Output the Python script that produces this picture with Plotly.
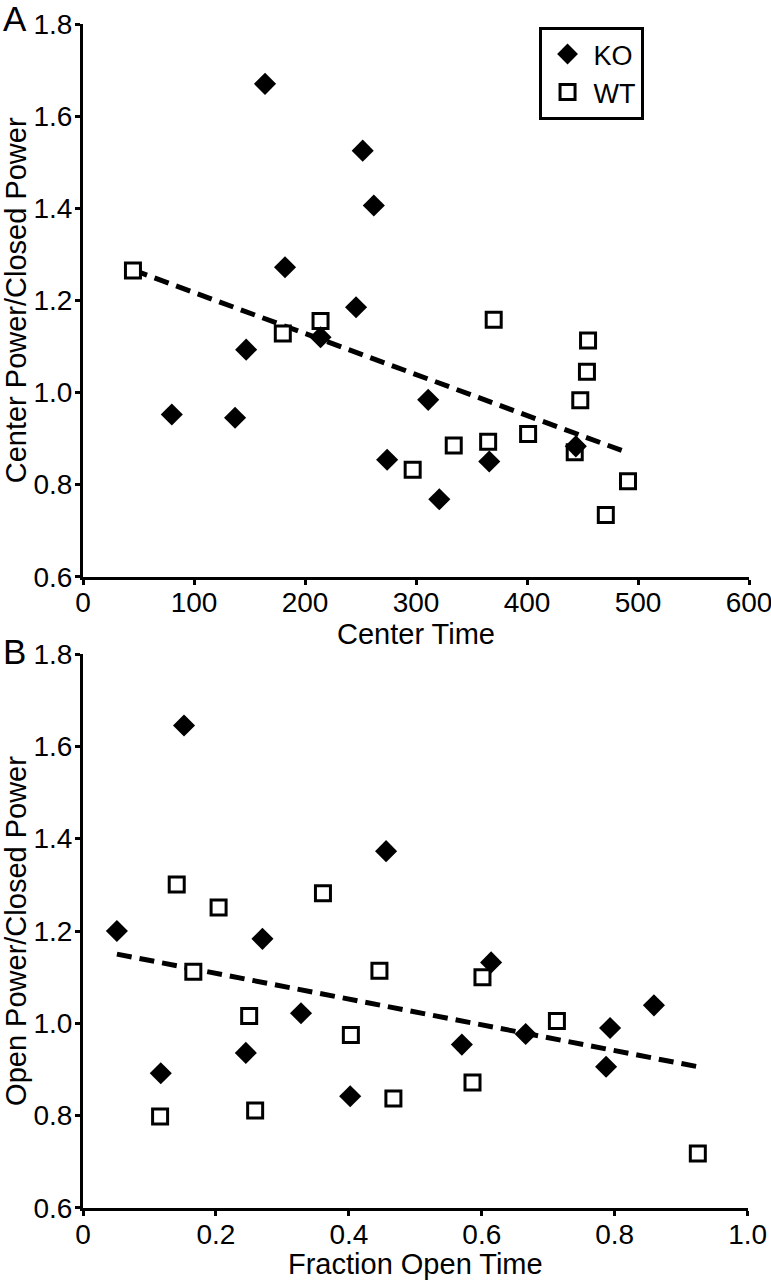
import plotly.graph_objects as go

# ---------------- Data ----------------
# Panel A: Center Time vs Center Power/Closed Power
a_ko_x = [80, 137, 147, 164, 182, 214, 246, 252, 262, 274, 311, 321, 366, 444]
a_ko_y = [0.952, 0.945, 1.093, 1.670, 1.272, 1.120, 1.185, 1.525, 1.406, 0.854, 0.984, 0.768, 0.850, 0.883]
a_wt_x = [45, 180, 214, 297, 334, 365, 370, 401, 443, 448, 454, 455, 471, 491]
a_wt_y = [1.265, 1.128, 1.155, 0.832, 0.885, 0.893, 1.158, 0.910, 0.870, 0.983, 1.045, 1.113, 0.734, 0.807]
a_trend_x = [45, 491]
a_trend_y = [1.266, 0.869]

# Panel B: Fraction Open Time vs Open Power/Closed Power
b_ko_x = [0.051, 0.117, 0.152, 0.245, 0.270, 0.328, 0.402, 0.456, 0.570, 0.614, 0.666, 0.787, 0.793, 0.859]
b_ko_y = [1.200, 0.892, 1.645, 0.936, 1.183, 1.022, 0.842, 1.373, 0.954, 1.132, 0.977, 0.906, 0.990, 1.039]
b_wt_x = [0.116, 0.141, 0.166, 0.204, 0.250, 0.259, 0.361, 0.403, 0.446, 0.467, 0.586, 0.601, 0.713, 0.925]
b_wt_y = [0.798, 1.301, 1.112, 1.251, 1.016, 0.811, 1.282, 0.975, 1.114, 0.837, 0.872, 1.100, 1.005, 0.718]
b_trend_x = [0.051, 0.925]
b_trend_y = [1.150, 0.906]

y_ticks = [0.6, 0.8, 1.0, 1.2, 1.4, 1.6, 1.8]
a_x_ticks = [0, 100, 200, 300, 400, 500, 600]
b_x_ticks = [0, 0.2, 0.4, 0.6, 0.8, 1.0]
b_x_ticktext = ["0", "0.2", "0.4", "0.6", "0.8", "1.0"]

FONT = "Liberation Sans, Arial, Helvetica, sans-serif"

ko_marker = dict(symbol="diamond", size=17, color="black", line=dict(width=0))
wt_marker = dict(symbol="square", size=15, color="white", line=dict(width=3, color="black"))
trend_line = dict(color="black", width=5, dash="15px,8px")

fig = go.Figure()

# Panel A
fig.add_trace(go.Scatter(x=a_trend_x, y=a_trend_y, mode="lines", line=trend_line,
                         showlegend=False, xaxis="x", yaxis="y", hoverinfo="skip"))
fig.add_trace(go.Scatter(x=a_wt_x, y=a_wt_y, mode="markers", marker=wt_marker, name="WT",
                         legendrank=2, xaxis="x", yaxis="y"))
fig.add_trace(go.Scatter(x=a_ko_x, y=a_ko_y, mode="markers", marker=ko_marker, name="KO",
                         legendrank=1, xaxis="x", yaxis="y"))

# Panel B
fig.add_trace(go.Scatter(x=b_trend_x, y=b_trend_y, mode="lines", line=trend_line,
                         showlegend=False, xaxis="x2", yaxis="y2", hoverinfo="skip"))
fig.add_trace(go.Scatter(x=b_wt_x, y=b_wt_y, mode="markers", marker=wt_marker, name="WT",
                         showlegend=False, xaxis="x2", yaxis="y2"))
fig.add_trace(go.Scatter(x=b_ko_x, y=b_ko_y, mode="markers", marker=ko_marker, name="KO",
                         showlegend=False, xaxis="x2", yaxis="y2"))

axis_common = dict(
    showline=True, linecolor="black", linewidth=3,
    ticks="outside", ticklen=5, tickwidth=3, tickcolor="black",
    showgrid=False, zeroline=False, automargin=False,
    ticklabeloverflow="allow",
    tickfont=dict(family=FONT, size=28, color="black"),
)
x_common = dict(axis_common, ticklabelstandoff=-6)
y_common = dict(axis_common, ticklabelstandoff=-3)
title_font = dict(family=FONT, size=29, color="black")

fig.update_layout(
    width=771, height=1280,
    margin=dict(l=83, r=22, t=24, b=72, autoexpand=False),
    paper_bgcolor="white", plot_bgcolor="white",
    font=dict(family=FONT, color="black"),
    xaxis=dict(x_common, domain=[0, 1], range=[0, 600], tickvals=a_x_ticks,
               anchor="y", title=dict(text="Center Time", font=title_font, standoff=2)),
    yaxis=dict(y_common, domain=[0.5332, 1], range=[0.6, 1.8], tickvals=y_ticks,
               tickformat=".1f", anchor="x",
               title=dict(text="Center Power/Closed Power", font=title_font, standoff=15)),
    xaxis2=dict(x_common, domain=[0, 0.998], range=[0, 1], tickvals=b_x_ticks,
                ticktext=b_x_ticktext, anchor="y2",
                title=dict(text="Fraction Open Time", font=title_font, standoff=4)),
    yaxis2=dict(y_common, domain=[0, 0.4679], range=[0.6, 1.8], tickvals=y_ticks,
                tickformat=".1f", anchor="x2",
                title=dict(text="Open Power/Closed Power", font=title_font, standoff=15)),
    legend=dict(x=0.684, y=0.9975, xanchor="left", yanchor="top",
                bordercolor="black", borderwidth=3, bgcolor="white",
                font=dict(family=FONT, size=27, color="black"),
                itemwidth=42, traceorder="normal"),
    showlegend=True,
    annotations=[
        dict(text="A", xref="paper", yref="paper", x=-0.1235, y=1.0045,
             xanchor="left", yanchor="middle", showarrow=False,
             font=dict(family=FONT, size=35, color="black")),
        dict(text="B", xref="paper", yref="paper", x=-0.1235, y=0.470,
             xanchor="left", yanchor="middle", showarrow=False,
             font=dict(family=FONT, size=35, color="black")),
    ],
)

fig.write_html("out.html", config={"displayModeBar": False},
               post_script="document.body.style.margin='0';")
